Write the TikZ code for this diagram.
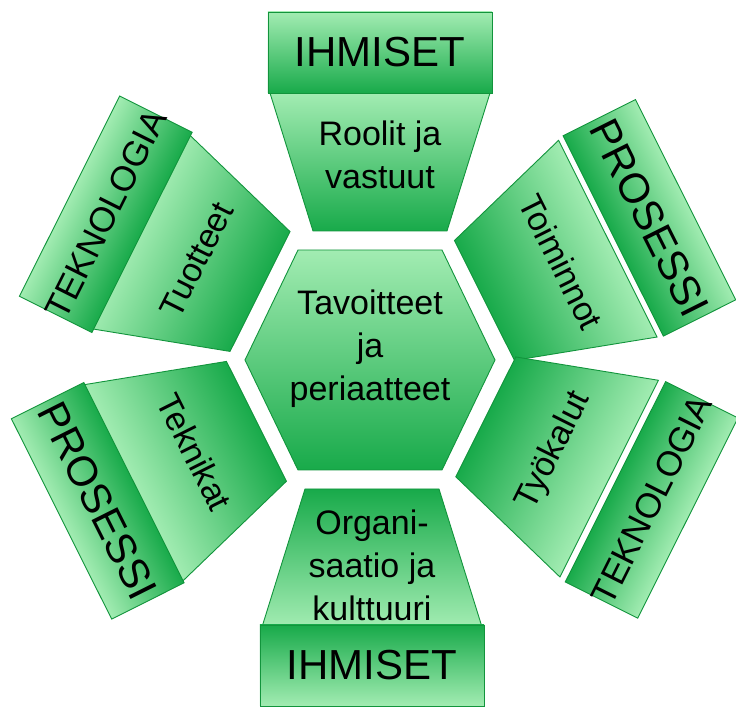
\documentclass[tikz,border=0pt]{standalone}
\usepackage{fontspec}
\setmainfont{Liberation Sans}
\definecolor{lightg}{RGB}{162,236,178}
\definecolor{darkg}{RGB}{24,170,74}
\definecolor{edgeg}{RGB}{18,148,60}
\tikzset{
  tile/.style={draw=edgeg, line width=0.9pt, top color=lightg, bottom color=darkg},
  small/.style={font=\fontsize{34}{43}\selectfont, align=center, inner sep=0pt},
  big/.style={font=\fontsize{#1}{#1}\selectfont, inner sep=0pt}
}
\begin{document}
\begin{tikzpicture}[x=1pt,y=1pt]
  \useasboundingbox (-370,-348) rectangle (366,360);
  % middle
  \draw[tile] (125,0) -- (72,110) -- (-72,110) -- (-125,0) -- (-72,-110) -- (72,-110) -- cycle;
  \node[small] (c) at (0,11) {Tavoitteet\\ja\\periaatteet};
  % six sides
  \foreach \ang/\flip/\dx/\rr/\tr/\inner/\outer/\osize [count=\i] in {
      0/0/10/267/205/{Roolit ja\\vastuut}/IHMISET/42,
      -63.4/0/-2/273/215/Toiminnot/PROSESSI/42,
      63.4/0/12/261/200/Tuotteet/TEKNOLOGIA/35,
      116.6/180/-4/266/198/Teknikat/PROSESSI/42,
      -116.6/180/-1/274/205/Työkalut/TEKNOLOGIA/35,
      180/180/-2/265/205/{Organi-\\saatio ja\\kulttuuri}/IHMISET/42}{
    \begin{scope}[transform canvas={rotate=\ang}, xshift=\dx]
      \draw[tile] (-67,129) -- (67,129) -- (110,267) -- (-110,267) -- cycle;
      \draw[tile] (-112,\rr) rectangle (112,\rr+81);
      \node[small, rotate=\flip] (t\i) at (0,\tr) {\inner};
      \node[big=\osize, rotate=\flip] (o\i) at (0,\rr+40.5) {\outer};
    \end{scope}
  }
\end{tikzpicture}
\end{document}
